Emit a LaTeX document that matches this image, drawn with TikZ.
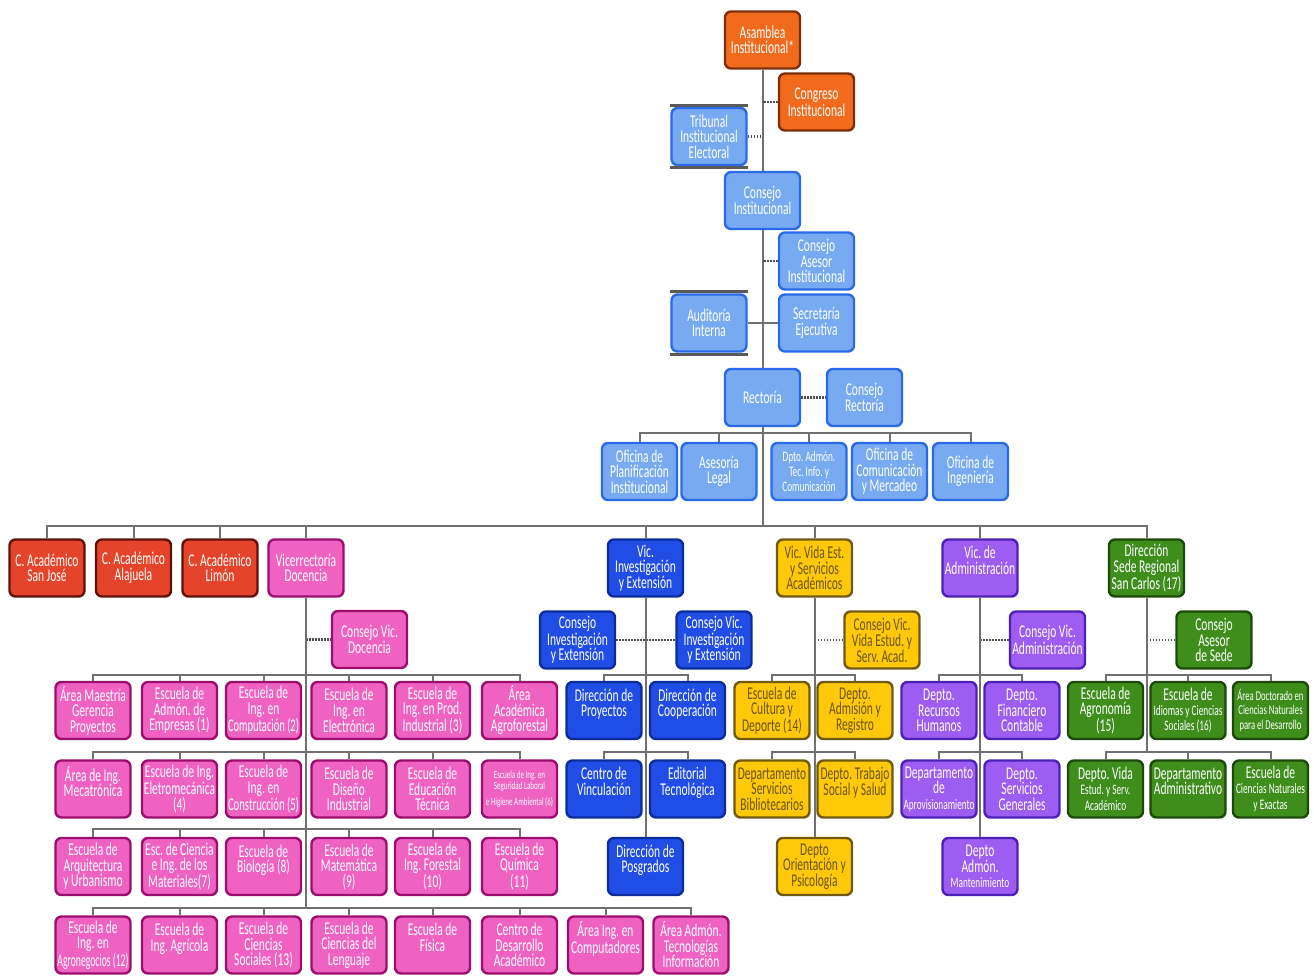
\documentclass[tikz,border=0pt]{standalone}
\usepackage{graphicx}
\usepackage{fontspec}
\setmainfont{Carlito}[FakeStretch=0.64]
\definecolor{orgF}{HTML}{F26A1B}\definecolor{orgD}{HTML}{7C2E0C}
\definecolor{lbF}{HTML}{78AAF2}\definecolor{lbD}{HTML}{2A6AE6}
\definecolor{redF}{HTML}{E6432B}\definecolor{redD}{HTML}{5C120A}
\definecolor{pkF}{HTML}{F062C2}\definecolor{pkD}{HTML}{9A0F6E}
\definecolor{blF}{HTML}{1F4DE6}\definecolor{blD}{HTML}{0B2C9A}
\definecolor{ylF}{HTML}{FFC90A}\definecolor{ylD}{HTML}{6E5A12}\definecolor{ylT}{HTML}{6A5414}
\definecolor{puF}{HTML}{9D5CF2}\definecolor{puD}{HTML}{4B22B5}
\definecolor{grF}{HTML}{3F8E1C}\definecolor{grD}{HTML}{1D4A0A}
\definecolor{lineC}{HTML}{707070}
\definecolor{dotC}{HTML}{505050}
\newcommand\smt{\fontsize{14.5}{15}\selectfont}
\newcommand\tnt{\fontsize{11}{11.5}\selectfont}
\newcommand\mdt{\fontsize{13.5}{14}\selectfont}
% squeeze a line horizontally so that it never runs past the box
\newsavebox\fitbox
\newcommand\fit[1]{\sbox\fitbox{#1}%
  \ifdim\wd\fitbox>71pt\relax\resizebox{71pt}{\ht\fitbox}{\usebox\fitbox}%
  \else\usebox\fitbox\fi}
\begin{document}
\frenchspacing
\begin{tikzpicture}[x=1pt,y=-1pt,
  box/.style={rounded corners=6pt, line width=2.4pt, text width=73pt,
    minimum height=57pt, inner sep=1pt, align=flush center, text=white,
    font=\fontsize{18}{15.5}\selectfont},
  orgbox/.style={box, fill=orgF, draw=orgD},
  lbbox/.style={box, fill=lbF, draw=lbD},
  redbox/.style={box, fill=redF, draw=redD},
  pkbox/.style={box, fill=pkF, draw=pkD},
  blbox/.style={box, fill=blF, draw=blD},
  ylbox/.style={box, fill=ylF, draw=ylD, text=ylT},
  pubox/.style={box, fill=puF, draw=puD},
  grbox/.style={box, fill=grF, draw=grD},
  link/.style={draw=lineC, line width=2pt},
  dots/.style={draw=dotC, line width=2.4pt, dash pattern=on 1.6pt off 1.4pt},
  staffbar/.style={draw=lineC!80!black, line width=2.6pt}]
\useasboundingbox (0,0) rectangle (1314,976);

% ---------- governing bodies ----------
\node[orgbox] (asam) at (762.5,40) {Asamblea\\Institucional*};
\node[orgbox] (cong) at (816.5,102) {Congreso\\Institucional};
\node[lbbox] (trib) at (709,136.5) {Tribunal\\Institucional\\Electoral};
\node[lbbox] (cinst) at (762.5,200.5) {Consejo\\Institucional};
\node[lbbox] (case) at (816.5,261) {Consejo\\Asesor\\Institucional};
\node[lbbox] (audi) at (709,323) {Auditoría\\Interna};
\node[lbbox] (secr) at (816.5,323) {Secretaría\\Ejecutiva};
\node[lbbox] (rect) at (762.5,397.5) {Rectoría};
\node[lbbox] (crect) at (864.5,397.5) {Consejo\\Rectoría};

\foreach \n in {trib,audi}{
  \draw[staffbar] ([yshift=1.5pt]\n.north west) -- ([yshift=1.5pt]\n.north east);
  \draw[staffbar] ([yshift=-1.5pt]\n.south west) -- ([yshift=-1.5pt]\n.south east);
}

\draw[link] (asam.south) -- (cinst.north);
\draw[link] (cinst.south) -- (rect.north);
\draw[dots] (cong.west) -- (cong.west -| asam.south);
\draw[dots] (trib.east) -- (trib.east -| asam.south);
\draw[dots] (case.west) -- (case.west -| asam.south);
\draw[link] (audi.east) -- (secr.west);
\draw[dots] (rect.east) -- (crect.west);

% ---------- offices of the rectory ----------
\node[lbbox] (ofpl) at (639.5,471.5) {Oficina de\\\fit{Planificación}\\Institucional};
\node[lbbox] (aleg) at (719,471.5) {Asesoría\\Legal};
\node[lbbox] (dtic) at (809,471.5) {\smt Dpto. Admón.\\\smt Tec. Info. y\\\smt Comunicación};
\node[lbbox] (ocom) at (889.5,471.5) {Oficina de\\\fit{Comunicación}\\y Mercadeo};
\node[lbbox] (oing) at (970.5,471.5) {Oficina de\\Ingeniería};

\coordinate (obar) at (762.5,433);
\foreach \n in {ofpl,aleg,dtic,ocom,oing} \draw[link] (obar) -| (\n.north);

% ---------- vice-rectories and campuses ----------
\node[redbox] (csj) at (47,568) {\fit{C. Académico}\\San José};
\node[redbox] (cal) at (133.5,568) {\fit{C. Académico}\\Alajuela};
\node[redbox] (cli) at (220,568) {\fit{C. Académico}\\Limón};
\node[pkbox] (vdoc) at (306,568) {Vicerrectoría\\Docencia};
\node[blbox] (vinv) at (645.5,568) {Vic.\\Investigación\\y Extensión};
\node[ylbox] (vvida) at (814.5,568) {Vic. Vida Est.\\y Servicios\\Académicos};
\node[pubox] (vadm) at (980,568) {Vic. de\\\fit{Administración}\\~};
\node[grbox] (sede) at (1146.5,568) {Dirección\\Sede Regional\\\fit{San Carlos (17)}};

\coordinate (mbar) at (762.5,526);
\draw[link] (rect.south) -- (mbar);
\foreach \n in {csj,cal,cli,vdoc,vinv,vvida,vadm,sede} \draw[link] (mbar) -| (\n.north);

% ---------- councils ----------
\node[pkbox] (cvdoc) at (369.5,639.5) {Consejo Vic.\\Docencia};
\node[blbox] (cinv) at (577.5,640) {Consejo\\Investigación\\y Extensión};
\node[blbox] (cvinv) at (714,640) {Consejo Vic.\\Investigación\\y Extensión};
\node[ylbox] (cvvida) at (882,640) {Consejo Vic.\\\fit{Vida Estud. y}\\Serv. Acad.};
\node[pubox] (cvadm) at (1047.5,640) {Consejo Vic.\\\fit{Administración}};
\node[grbox] (csede) at (1214,640) {Consejo\\Asesor\\de Sede};

\draw[dots] (cvdoc.west -| vdoc.south) -- (cvdoc.west);
\draw[dots] (cinv.east) -- (cvinv.west);
\draw[dots] (cvvida.west -| vvida.south) -- (cvvida.west);
\draw[dots] (cvadm.west -| vadm.south) -- (cvadm.west);
\draw[dots] (csede.west -| sede.south) -- (csede.west);

% ---------- academic schools ----------
\node[pkbox] (d1a) at (93,710.5) {\fit{Área Maestría}\\Gerencia\\Proyectos};
\node[pkbox] (d1b) at (179.5,710.5) {Escuela de\\Admón. de\\\fit{Empresas (1)}};
\node[pkbox] (d1c) at (263.5,710.5) {Escuela de\\Ing. en\\\fit{Computación (2)}};
\node[pkbox] (d1d) at (349,710.5) {Escuela de\\Ing. en\\Electrónica};
\node[pkbox] (d1e) at (432.5,710.5) {Escuela de\\Ing. en Prod.\\\fit{Industrial (3)}};
\node[pkbox] (d1f) at (519.5,710.5) {Área\\Académica\\Agroforestal};

\node[pkbox] (d2a) at (93,789) {Área de Ing.\\Mecatrónica\\~};
\node[pkbox] (d2b) at (179.5,789) {\fit{Escuela de Ing.}\\\fit{Eletromecánica}\\(4)};
\node[pkbox] (d2c) at (263.5,789) {Escuela de\\Ing. en\\\fit{Construcción (5)}};
\node[pkbox] (d2d) at (349,789) {Escuela de\\Diseño\\Industrial};
\node[pkbox] (d2e) at (432.5,789) {Escuela de\\Educación\\Técnica};
\node[pkbox] (d2f) at (519.5,789) {\tnt\fit{Escuela de Ing. en}\\\tnt\fit{Seguridad Laboral}\\\tnt\fit{e Higiene Ambiental (6)}};

\node[pkbox] (d3a) at (93,866.5) {Escuela de\\\fit{Arquitectura}\\y Urbanismo};
\node[pkbox] (d3b) at (179.5,866.5) {\fit{Esc. de Ciencia}\\e Ing. de los\\\fit{Materiales(7)}};
\node[pkbox] (d3c) at (263.5,866.5) {Escuela de\\Biología (8)\\~};
\node[pkbox] (d3d) at (349,866.5) {Escuela de\\Matemática\\(9)};
\node[pkbox] (d3e) at (432.5,866.5) {Escuela de\\Ing. Forestal\\(10)};
\node[pkbox] (d3f) at (519.5,866.5) {Escuela de\\Química\\(11)};

\node[pkbox] (d4a) at (93,945) {Escuela de\\Ing. en\\\fit{Agronegocios (12)}};
\node[pkbox] (d4b) at (179.5,945) {Escuela de\\Ing. Agrícola\\~};
\node[pkbox] (d4c) at (263.5,945) {Escuela de\\Ciencias\\\fit{Sociales (13)}};
\node[pkbox] (d4d) at (349,945) {Escuela de\\Ciencias del\\Lenguaje};
\node[pkbox] (d4e) at (432.5,945) {Escuela de\\Física\\~};
\node[pkbox] (d4f) at (519.5,945) {Centro de\\Desarrollo\\Académico};
\node[pkbox] (d4g) at (605.5,945) {Área Ing. en\\\fit{Computadores}\\~};
\node[pkbox] (d4h) at (691,945) {Área Admón.\\\fit{Tecnologías}\\\fit{Información}};

\coordinate (db1) at (306,675);
\coordinate (db2) at (306,752);
\coordinate (db3) at (306,829);
\coordinate (db4) at (306,908);
\draw[link] (vdoc.south) -- (db4);
\foreach \n in {d1a,d1b,d1c,d1d,d1e,d1f} \draw[link] (db1) -| (\n.north);
\foreach \n in {d2a,d2b,d2c,d2d,d2e,d2f} \draw[link] (db2) -| (\n.north);
\foreach \n in {d3a,d3b,d3c,d3d,d3e,d3f} \draw[link] (db3) -| (\n.north);
\foreach \n in {d4a,d4b,d4c,d4d,d4e,d4f,d4g,d4h} \draw[link] (db4) -| (\n.north);

% ---------- research and extension ----------
\node[blbox] (i1a) at (604,710.5) {\fit{Dirección de}\\Proyectos\\~};
\node[blbox] (i1b) at (687.5,710.5) {\fit{Dirección de}\\\fit{Cooperación}\\~};
\node[blbox] (i2a) at (604,789) {Centro de\\Vinculación\\~};
\node[blbox] (i2b) at (687.5,789) {Editorial\\Tecnológica\\~};
\node[blbox] (ipos) at (645.5,866.5) {\fit{Dirección de}\\Posgrados\\~};

\coordinate (ib1) at (645.5,675);
\coordinate (ib2) at (645.5,752);
\draw[link] (vinv.south) -- (ipos.north);
\foreach \n in {i1a,i1b} \draw[link] (ib1) -| (\n.north);
\foreach \n in {i2a,i2b} \draw[link] (ib2) -| (\n.north);

% ---------- student life ----------
\node[ylbox] (v1a) at (772,710.5) {Escuela de\\Cultura y\\\fit{Deporte (14)}};
\node[ylbox] (v1b) at (855,710.5) {Depto.\\Admisión y\\Registro};
\node[ylbox] (v2a) at (772,789) {\fit{Departamento}\\Servicios\\\fit{Bibliotecarios}};
\node[ylbox] (v2b) at (855,789) {\fit{Depto. Trabajo}\\\fit{Social y Salud}\\~};
\node[ylbox] (vori) at (814.5,866.5) {Depto\\\fit{Orientación y}\\Psicología};

\coordinate (vb1) at (814.5,675);
\coordinate (vb2) at (814.5,752);
\draw[link] (vvida.south) -- (vori.north);
\foreach \n in {v1a,v1b} \draw[link] (vb1) -| (\n.north);
\foreach \n in {v2a,v2b} \draw[link] (vb2) -| (\n.north);

% ---------- administration ----------
\node[pubox] (a1a) at (939,710.5) {Depto.\\Recursos\\Humanos};
\node[pubox] (a1b) at (1022,710.5) {Depto.\\Financiero\\Contable};
\node[pubox] (a2a) at (939,789) {\fit{Departamento}\\de\\\smt\fit{Aprovisionamiento}};
\node[pubox] (a2b) at (1022,789) {Depto.\\Servicios\\Generales};
\node[pubox] (amnt) at (980,866.5) {Depto\\Admón.\\\smt\fit{Mantenimiento}};

\coordinate (ab1) at (980,675);
\coordinate (ab2) at (980,752);
\draw[link] (vadm.south) -- (amnt.north);
\foreach \n in {a1a,a1b} \draw[link] (ab1) -| (\n.north);
\foreach \n in {a2a,a2b} \draw[link] (ab2) -| (\n.north);

% ---------- San Carlos campus ----------
\node[grbox] (s1a) at (1105.5,710.5) {Escuela de\\Agronomía\\(15)};
\node[grbox] (s1b) at (1188,710.5) {Escuela de\\\smt\fit{Idiomas y Ciencias}\\\fit{Sociales (16)}};
\node[grbox] (s1c) at (1270.5,710.5) {\mdt\fit{Área Doctorado en}\\\mdt\fit{Ciencias Naturales}\\\mdt\fit{para el Desarrollo}};
\node[grbox] (s2a) at (1105.5,789) {Depto. Vida\\\smt Estud. y Serv.\\\smt Académico};
\node[grbox] (s2b) at (1188,789) {\fit{Departamento}\\\fit{Administrativo}\\~};
\node[grbox] (s2c) at (1270.5,789) {Escuela de\\\smt\fit{Ciencias Naturales}\\y Exactas};

\coordinate (sb1) at (1146.5,675);
\coordinate (sb2) at (1146.5,752);
\draw[link] (sede.south) -- (sb2);
\foreach \n in {s1a,s1b,s1c} \draw[link] (sb1) -| (\n.north);
\foreach \n in {s2a,s2b,s2c} \draw[link] (sb2) -| (\n.north);
\end{tikzpicture}
\end{document}
